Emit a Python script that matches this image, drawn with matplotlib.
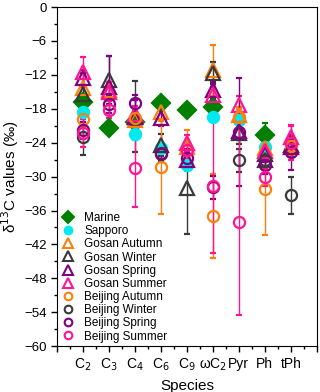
import numpy as np
import matplotlib
matplotlib.use('Agg')
import matplotlib.pyplot as plt
from matplotlib.ticker import MultipleLocator
from matplotlib.lines import Line2D

nan = np.nan
species = ['C$_2$', 'C$_3$', 'C$_4$', 'C$_6$', 'C$_9$', '\u03c9C$_2$', 'Pyr', 'Ph', 'tPh']

marine = [-16.8, -21.4, -20.3, -17.0, -18.2, -17.7, nan, -22.7, nan]
marine_err = [0, 0, 0, 0, 0, 0, 0, 2.2, 0]
sapporo = [-18.6, nan, -22.5, -25.0, -28.0, -19.4, -20.0, -24.8, nan]
sapporo_err = [1.0, 0, 1.0, 1.0, 1.0, 1.0, 1.0, 1.0, 0]

gosan_autumn = [-14.3, -14.7, -19.9, -18.6, -24.8, -11.2, -19.1, -25.0, -24.4]
gosan_autumn_err = [1.5, 1.5, 1.5, 1.5, 3.0, 4.5, 1.5, 1.5, 1.5]
gosan_winter = [-15.4, -12.9, -19.4, -24.4, -32.0, -11.7, -22.3, -27.1, -24.4]
gosan_winter_err = [3.7, 4.2, 6.3, 2.0, 8.2, 2.0, 2.0, 1.5, 1.5]
gosan_spring = [-12.6, -14.1, -19.5, -19.6, -27.0, -14.7, -22.0, -26.0, -24.8]
gosan_spring_err = [1.5, 5.5, 3.0, 1.5, 1.5, 1.5, 1.5, 1.5, 1.5]
gosan_summer = [-11.5, -15.0, -19.0, nan, -24.1, -15.6, -17.3, -25.5, -23.0]
gosan_summer_err = [2.7, 1.5, 1.5, 0, 1.5, 1.5, 1.5, 1.5, 2.1]

beijing_autumn = [-19.8, nan, -19.7, -28.3, -25.3, -37.0, -19.5, -32.2, -24.6]
beijing_autumn_err = [1.5, 0, 1.5, 8.3, 1.5, 7.4, 1.5, 8.2, 1.5]
beijing_winter = [-23.0, nan, nan, -26.0, nan, nan, -27.1, -27.0, -33.3]
beijing_winter_err = [3.2, 0, 0, 1.5, 0, 0, 2.0, 1.5, 3.3]
beijing_spring = [-21.8, -17.2, -17.0, -25.8, -26.7, -31.9, -22.1, -28.0, -25.7]
beijing_spring_err = [1.5, 1.5, 1.5, 1.5, 1.5, 2.0, 9.5, 1.5, 3.1]
beijing_summer = [-22.3, -18.2, -28.5, nan, -25.3, -31.6, -38.0, -30.1, -24.0]
beijing_summer_err = [2.5, 1.5, 6.9, 0, 1.5, 12.0, 16.5, 1.5, 3.0]

series = [
    ('Marine', marine, marine_err, 'D', '#007f00', True),
    ('Sapporo', sapporo, sapporo_err, 'o', '#00e8f0', True),
    ('Gosan Autumn', gosan_autumn, gosan_autumn_err, '^', '#ff7f0e', False),
    ('Gosan Winter', gosan_winter, gosan_winter_err, '^', '#3a3a3a', False),
    ('Gosan Spring', gosan_spring, gosan_spring_err, '^', '#800080', False),
    ('Gosan Summer', gosan_summer, gosan_summer_err, '^', '#ff1493', False),
    ('Beijing Autumn', beijing_autumn, beijing_autumn_err, 'o', '#ff7f0e', False),
    ('Beijing Winter', beijing_winter, beijing_winter_err, 'o', '#3a3a3a', False),
    ('Beijing Spring', beijing_spring, beijing_spring_err, 'o', '#800080', False),
    ('Beijing Summer', beijing_summer, beijing_summer_err, 'o', '#ff1493', False),
]

plt.rcParams['font.family'] = ['Liberation Sans', 'DejaVu Sans']
fig = plt.figure(figsize=(3.2, 3.92), dpi=100)
ax = fig.add_axes([0.178, 0.117, 0.812, 0.865])

x = np.arange(1, len(species) + 1)
handles = []
for name, vals, err, mk, col, filled in series:
    size = {'D': 9, '^': 9.5, 'o': 8}[mk]
    fc = col if filled else 'none'
    ax.errorbar(x, vals, yerr=err, fmt=mk, color=col, ecolor=col, elinewidth=1,
                capsize=2, capthick=1, markersize=size,
                markerfacecolor=fc, markeredgecolor=col, markeredgewidth=1.6)
    # smaller markers in the legend, no error bars
    lsize = {'D': 6.5, '^': 7, 'o': 5.5}[mk]
    handles.append(Line2D([], [], linestyle='none', marker=mk, markersize=lsize,
                          markerfacecolor=fc, markeredgecolor=col,
                          markeredgewidth=1.5, label=name))

ax.set_xlim(0, 10)
ax.set_ylim(-60, 0)
ax.set_xticks(np.arange(0, 11))
ax.set_xticklabels([''] + species + [''], fontsize=10)
ax.xaxis.set_minor_locator(MultipleLocator(0.5))
ax.yaxis.set_major_locator(MultipleLocator(6))
ax.yaxis.set_minor_locator(MultipleLocator(3))
ax.tick_params(axis='y', labelsize=9.5)
ax.tick_params(which='major', direction='out', length=4, width=1)
ax.tick_params(which='minor', direction='out', length=2, width=1)
ax.set_xlabel('Species', fontsize=11)
ax.set_ylabel('\u03b4$^{13}$C values (\u2030)', fontsize=11, labelpad=2)

ax.legend(handles=handles, loc='lower left', frameon=False, fontsize=8.5,
          labelspacing=0.1, handletextpad=0.8, borderaxespad=0.0,
          handlelength=1.2, borderpad=0.3)

fig.savefig('out.png', dpi=100)
